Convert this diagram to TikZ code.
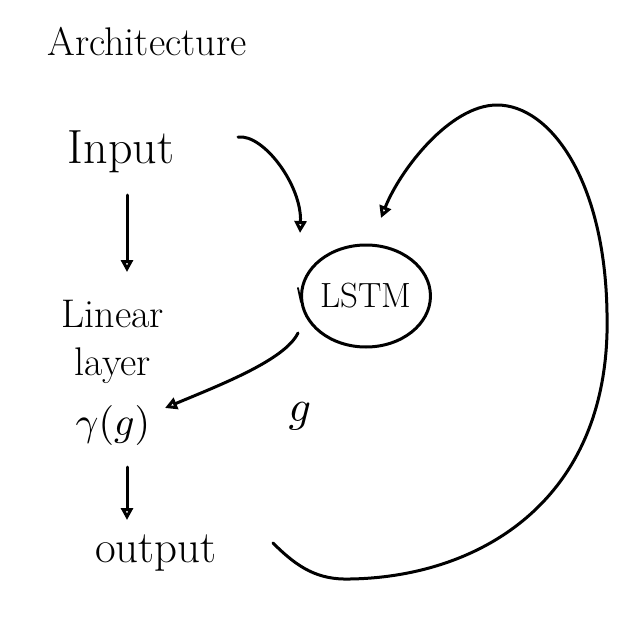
\documentclass[tikz,border=0pt]{standalone}
\usepackage{graphicx}
\usetikzlibrary{arrows.meta,shapes.geometric}
\begin{document}
\begin{tikzpicture}[x=1pt,y=-1pt,
  txt/.style={inner sep=0pt, text=black},
  pen/.style={line width=3pt, line cap=round, line join=round, black},
  arr/.style={pen, -{Triangle[open, length=12pt, width=12pt]}}]
\useasboundingbox[fill=white] (0,0) rectangle (643,621);
% texts
\node[txt, font=\fontsize{40}{44}\selectfont] (title) at (147,42) {Architecture};
\node[txt, font=\fontsize{48}{52}\selectfont] (input) at (121,152) {Input};
\node[txt, font=\fontsize{40}{48}\selectfont, align=center] (linear) at (113,342) {Linear\\layer};
\node[txt] (gamma) at (113,425) {\scalebox{4}{$\gamma(g)$}};
\node[txt, font=\fontsize{45}{50}\selectfont] (output) at (156,553) {output};
\node[pen, draw, ellipse, minimum width=128pt, minimum height=102pt, inner sep=0pt,
      font=\fontsize{35}{40}\selectfont] (lstm) at (366,296) {LSTM};
\node[txt] (glabel) at (300,416) {\scalebox{4.4}{$g$}};
% little overshoot stroke of the ellipse
\draw[pen, line width=1.8pt] ([shift={(-68,-8)}]lstm.center) -- ++(3,14);
% vertical arrows
\draw[arr] ([shift={(6,43)}]input.center) -- ([shift={(14,-70)}]linear.center);
\draw[arr] ([shift={(14,42)}]gamma.center) -- ([shift={(-29,-33)}]output.center);
% input -> LSTM
\draw[arr] ([shift={(117,-15)}]input.center) .. controls (264,134) and (302,186) .. ([shift={(-66,-63)}]lstm.center);
% LSTM -> gamma
\draw[arr] ([shift={(-68,37)}]lstm.center) .. controls (285,360) and (220,385) .. ([shift={(52,-17)}]gamma.center);
% feedback loop output -> LSTM
\draw[arr] ([shift={(117,-10)}]output.center) .. controls (298,568) and (318,580) .. (350,579)
  .. controls (480,577) and (612,500) .. (607,313)
  .. controls (605,180) and (550,105) .. (497,105)
  .. controls (450,105) and (400,170) .. ([shift={(15,-78)}]lstm.center);
\end{tikzpicture}
\end{document}
